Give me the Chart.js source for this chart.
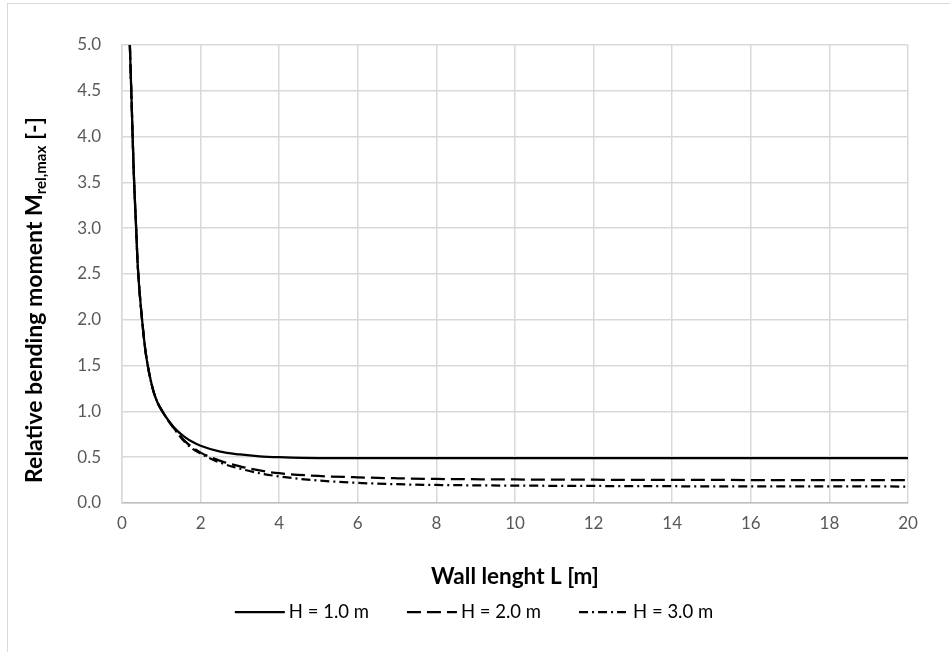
<!DOCTYPE html>
<html>
<head>
<meta charset="utf-8">
<script src="https://cdn.jsdelivr.net/npm/chart.js@4/dist/chart.umd.min.js"></script>
<style>
  html, body { margin: 0; padding: 0; background: #fff; }
  #wrap { position: relative; width: 950px; height: 652px; }
  #frame { position: absolute; left: 7px; top: 3px; right: -2px; bottom: -2px; border-left: 1px solid #d9d9d9; border-top: 1px solid #d9d9d9; pointer-events: none; }
</style>
</head>
<body>
<div id="wrap">
  <canvas id="chart" width="950" height="652"></canvas>
  <div id="frame"></div>
</div>
<script>
// wall length L [m]
const lengths = [0.2, 0.25, 0.3, 0.36, 0.4, 0.5, 0.6, 0.7, 0.8, 0.9, 1.0, 1.2, 1.4, 1.6, 1.8, 2.0, 2.5, 3.0, 3.5, 4.0, 5, 6, 7, 8, 10, 12, 14, 16, 18, 20];
// relative bending moment for each wall height
const h1 = [5.0, 4.3, 3.6, 3.0, 2.6, 2.05, 1.65, 1.4, 1.22, 1.1, 1.02, 0.89, 0.79, 0.72, 0.665, 0.625, 0.56, 0.53, 0.51, 0.5, 0.49, 0.49, 0.49, 0.49, 0.49, 0.49, 0.49, 0.49, 0.49, 0.49];
const h2 = [5.0, 4.3, 3.6, 3.0, 2.6, 2.05, 1.65, 1.4, 1.22, 1.1, 1.02, 0.885, 0.775, 0.675, 0.605, 0.55, 0.46, 0.4, 0.355, 0.325, 0.295, 0.28, 0.27, 0.263, 0.257, 0.254, 0.252, 0.251, 0.25, 0.25];
const h3 = [5.0, 4.3, 3.6, 3.0, 2.6, 2.05, 1.65, 1.4, 1.22, 1.1, 1.02, 0.885, 0.77, 0.665, 0.59, 0.54, 0.44, 0.375, 0.325, 0.29, 0.245, 0.22, 0.205, 0.197, 0.19, 0.186, 0.183, 0.182, 0.181, 0.18];
const seriesNames = ['H = 1.0 m', 'H = 2.0 m', 'H = 3.0 m'];

function pts(vals) {
  return lengths.map(function (l, i) { return { x: l, y: vals[i] }; });
}

// y axis title with subscript, drawn by hand
const yTitle = {
  id: 'yTitle',
  afterDraw(chart) {
    const ctx = chart.ctx;
    const big = 'bold 23px Lato';
    const small = 'bold 15px Lato';
    const parts = [
      { t: 'Relative bending moment M', f: big, dy: 0 },
      { t: 'rel,max', f: small, dy: 6 },
      { t: ' [-]', f: big, dy: 0 }
    ];
    let total = 0;
    parts.forEach(function (p) { ctx.font = p.f; p.w = ctx.measureText(p.t).width; total += p.w; });
    ctx.save();
    ctx.translate(35, 300);
    ctx.rotate(-Math.PI / 2);
    ctx.fillStyle = '#000';
    ctx.textBaseline = 'middle';
    let x = -total / 2;
    parts.forEach(function (p) {
      ctx.font = p.f;
      ctx.fillText(p.t, x, p.dy);
      x += p.w;
    });
    ctx.restore();
  }
};

// legend with dashed line samples
const lineLegend = {
  id: 'lineLegend',
  afterDraw(chart) {
    const ctx = chart.ctx;
    const sets = chart.data.datasets;
    const lineW = 50, gap = 4, spacing = 38, y = 612;
    ctx.save();
    ctx.font = '18.5px Lato';
    const widths = sets.map(function (d) { return lineW + gap + ctx.measureText(d.label).width; });
    const total = widths.reduce(function (a, b) { return a + b; }, 0) + spacing * (sets.length - 1);
    let x = 474 - total / 2;
    sets.forEach(function (d, i) {
      ctx.strokeStyle = d.borderColor;
      ctx.lineWidth = d.borderWidth;
      ctx.setLineDash(d.borderDash || []);
      ctx.beginPath();
      ctx.moveTo(x, y);
      ctx.lineTo(x + lineW, y);
      ctx.stroke();
      ctx.setLineDash([]);
      ctx.fillStyle = '#000';
      ctx.textBaseline = 'middle';
      ctx.fillText(d.label, x + lineW + gap, y);
      x += widths[i] + spacing;
    });
    ctx.restore();
  }
};

const ctx = document.getElementById('chart');
new Chart(ctx, {
  type: 'line',
  data: {
    datasets: [
      { label: seriesNames[0], data: pts(h1), borderColor: '#000', borderWidth: 2.25, pointRadius: 0, cubicInterpolationMode: 'monotone' },
      { label: seriesNames[1], data: pts(h2), borderColor: '#000', borderWidth: 2.25, borderDash: [14, 6], pointRadius: 0, cubicInterpolationMode: 'monotone' },
      { label: seriesNames[2], data: pts(h3), borderColor: '#000', borderWidth: 2.25, borderDash: [9, 4, 2, 4], pointRadius: 0, cubicInterpolationMode: 'monotone' }
    ]
  },
  options: {
    responsive: false,
    animation: false,
    layout: { padding: { left: 0, top: 45, right: 42, bottom: 0 } },
    plugins: {
      tooltip: { enabled: false },
      legend: { display: false }
    },
    scales: {
      x: {
        type: 'linear',
        min: 0,
        max: 20,
        afterFit(scale) { scale.height = 149; },
        ticks: { stepSize: 2, color: '#595959', font: { family: 'Lato', size: 17 }, padding: 10 },
        grid: { color: '#d9d9d9', lineWidth: 1.5, drawTicks: false },
        border: { color: '#bfbfbf', width: 1.5 },
        title: { display: true, text: 'Wall lenght L [m]', color: '#000', font: { family: 'Lato', size: 22.5, weight: 'bold' }, padding: { top: 0, bottom: 62 } }
      },
      y: {
        min: 0,
        max: 5,
        afterFit(scale) { scale.width = 122; },
        ticks: { stepSize: 0.5, color: '#595959', font: { family: 'Lato', size: 17 }, padding: 21, callback: function (v) { return v.toFixed(1); } },
        grid: { color: '#d9d9d9', lineWidth: 1.5, drawTicks: false },
        border: { color: '#d9d9d9', width: 1.5 }
      }
    }
  },
  plugins: [yTitle, lineLegend]
});
</script>
</body>
</html>
